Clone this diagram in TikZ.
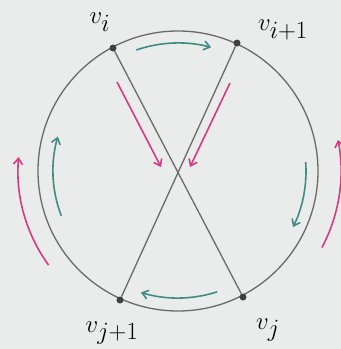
\documentclass[tikz,border=0pt]{standalone}
\usetikzlibrary{arrows.meta}
\definecolor{bgc}{HTML}{E9ECEA}
\definecolor{linec}{HTML}{6A6A6A}
\definecolor{tealc}{HTML}{3E8C84}
\definecolor{magc}{HTML}{D63A80}
\begin{document}
\begin{tikzpicture}[x=1bp,y=-1bp,
  edge/.style={draw=linec,line width=1.3bp},
  dot/.style={circle,fill=black!75,inner sep=0pt,minimum size=7bp},
  tarrow/.style={draw=tealc,line width=1.6bp,-{Straight Barb[length=6bp,width=9bp]}},
  marrow/.style={draw=magc,line width=1.6bp,-{Straight Barb[length=6bp,width=9bp]}},
  lab/.style={font=\fontsize{36}{36}\selectfont,inner sep=0pt}]
\fill[bgc] (0,0) rectangle (341,349);
\useasboundingbox (0,0) rectangle (341,349);
\coordinate (c) at (178,171);
\draw[edge] (c) circle[radius=140];
\node[dot] (vi) at (113,48) {};
\node[dot] (vi1) at (237,43) {};
\node[dot] (vj) at (243,297) {};
\node[dot] (vj1) at (120,300) {};
\draw[edge] (vi) -- (vj);
\draw[edge] (vi1) -- (vj1);
\node[lab] (li) at (100,22) {$v_i$};
\node[lab] (li1) at (283,30) {$v_{i+1}$};
\node[lab] (lj) at (268,330) {$v_j$};
\node[lab] (lj1) at (112,333) {$v_{j+1}$};
% teal arrows inside
\draw[tarrow] ([shift={(-109:128)}]c) arc[start angle=-109,end angle=-75,radius=128];
\draw[tarrow] ([shift={(-4:128)}]c) arc[start angle=-4,end angle=26,radius=128];
\draw[tarrow] ([shift={(72:127)}]c) arc[start angle=72,end angle=107,radius=127];
\draw[tarrow] ([shift={(-201:125)}]c) arc[start angle=-201,end angle=-164,radius=125];
% magenta arrows outside
\draw[marrow] ([shift={(-216:160)}]c) arc[start angle=-216,end angle=-175,radius=160];
\draw[marrow] ([shift={(28:163)}]c) arc[start angle=28,end angle=-11,radius=163];
% magenta arrows inside
\coordinate (ma1) at (117,82);
\coordinate (ma2) at (161,167);
\coordinate (mb1) at (230,83);
\coordinate (mb2) at (190,167);
\draw[marrow] (ma1) -- (ma2);
\draw[marrow] (mb1) -- (mb2);
\end{tikzpicture}
\end{document}
